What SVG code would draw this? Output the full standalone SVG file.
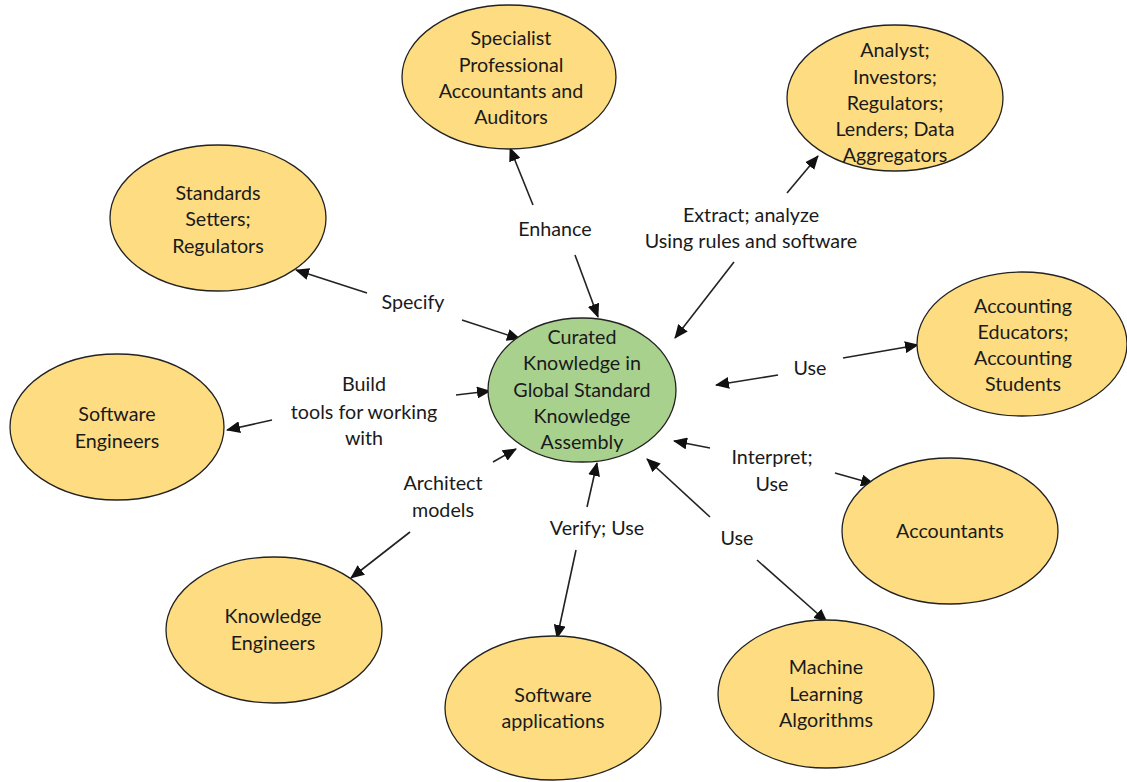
<svg xmlns="http://www.w3.org/2000/svg" width="1127" height="782" viewBox="0 0 1127 782">
<defs>
<marker id="ah" markerUnits="userSpaceOnUse" markerWidth="14" markerHeight="12" refX="13" refY="6" orient="auto">
<path d="M0,0 L14,6 L0,12 Z" fill="#111"/>
</marker>
<style>
.n{fill:#FEDD82;stroke:#222;stroke-width:1.3}
.c{fill:#A9D18E;stroke:#222;stroke-width:1.3}
text{font-family:Lato,"Liberation Sans",sans-serif;font-size:19.7px;fill:#1a1a1a;text-anchor:middle}
#connectors line{stroke:#222;stroke-width:1.6;marker-end:url(#ah)}
</style>
</defs>
<rect width="1127" height="782" fill="#fff"/>
<g id="connectors">
<line x1="575" y1="255" x2="598" y2="317"/>
<line x1="533" y1="205" x2="510" y2="148"/>
<line x1="787" y1="193" x2="818" y2="156"/>
<line x1="734" y1="262" x2="675" y2="338"/>
<line x1="367" y1="293" x2="296" y2="270"/>
<line x1="462" y1="320" x2="520" y2="339"/>
<line x1="456" y1="395" x2="490" y2="391"/>
<line x1="272" y1="420" x2="227" y2="430"/>
<line x1="778" y1="375" x2="716" y2="385"/>
<line x1="843" y1="358" x2="918" y2="345"/>
<line x1="710" y1="448" x2="674" y2="441"/>
<line x1="835" y1="473" x2="874" y2="484"/>
<line x1="710" y1="517" x2="647" y2="459"/>
<line x1="757" y1="560" x2="827" y2="622"/>
<line x1="493" y1="462" x2="516" y2="449"/>
<line x1="410" y1="532" x2="351" y2="578"/>
<line x1="587" y1="507" x2="597" y2="463"/>
<line x1="576" y1="550" x2="557" y2="638"/>
</g>
<g id="labels">
<text x="555" y="236">Enhance</text>
<text x="751" y="222">Extract; analyze</text>
<text x="751" y="248">Using rules and software</text>
<text x="413" y="309">Specify</text>
<text x="364" y="391">Build</text>
<text x="364" y="419">tools for working</text>
<text x="364" y="445">with</text>
<text x="810" y="375">Use</text>
<text x="772" y="464">Interpret;</text>
<text x="772" y="491">Use</text>
<text x="737" y="545">Use</text>
<text x="443" y="490">Architect</text>
<text x="443" y="517">models</text>
<text x="597" y="535">Verify; Use</text>
</g>
<g id="center">
<ellipse class="c" cx="582" cy="390" rx="94" ry="72"/>
<text x="582" y="344">Curated</text>
<text x="582" y="370">Knowledge in</text>
<text x="582" y="397">Global Standard</text>
<text x="582" y="423">Knowledge</text>
<text x="582" y="449">Assembly</text>
</g>
<g id="specialist">
<ellipse class="n" cx="509" cy="77" rx="107" ry="72"/>
<text x="511" y="45">Specialist</text>
<text x="511" y="72">Professional</text>
<text x="511" y="98">Accountants and</text>
<text x="511" y="124">Auditors</text>
</g>
<g id="analyst">
<ellipse class="n" cx="895" cy="98" rx="108" ry="73"/>
<text x="895" y="57">Analyst;</text>
<text x="895" y="84">Investors;</text>
<text x="895" y="110">Regulators;</text>
<text x="895" y="136">Lenders; Data</text>
<text x="895" y="162">Aggregators</text>
</g>
<g id="standards">
<ellipse class="n" cx="218" cy="218" rx="108" ry="73"/>
<text x="218" y="200">Standards</text>
<text x="218" y="226">Setters;</text>
<text x="218" y="253">Regulators</text>
</g>
<g id="educators">
<ellipse class="n" cx="1022" cy="344" rx="105" ry="72"/>
<text x="1023" y="313">Accounting</text>
<text x="1023" y="339">Educators;</text>
<text x="1023" y="365">Accounting</text>
<text x="1023" y="391">Students</text>
</g>
<g id="software-engineers">
<ellipse class="n" cx="117" cy="427" rx="107" ry="73"/>
<text x="117" y="421">Software</text>
<text x="117" y="448">Engineers</text>
</g>
<g id="accountants">
<ellipse class="n" cx="950" cy="531" rx="108" ry="73"/>
<text x="950" y="538">Accountants</text>
</g>
<g id="knowledge-engineers">
<ellipse class="n" cx="274" cy="630" rx="108" ry="73"/>
<text x="273" y="623">Knowledge</text>
<text x="273" y="650">Engineers</text>
</g>
<g id="software-applications">
<ellipse class="n" cx="553" cy="708" rx="108" ry="72"/>
<text x="553" y="702">Software</text>
<text x="553" y="728">applications</text>
</g>
<g id="ml">
<ellipse class="n" cx="826" cy="694" rx="108" ry="74"/>
<text x="826" y="674">Machine</text>
<text x="826" y="701">Learning</text>
<text x="826" y="727">Algorithms</text>
</g>
</svg>
